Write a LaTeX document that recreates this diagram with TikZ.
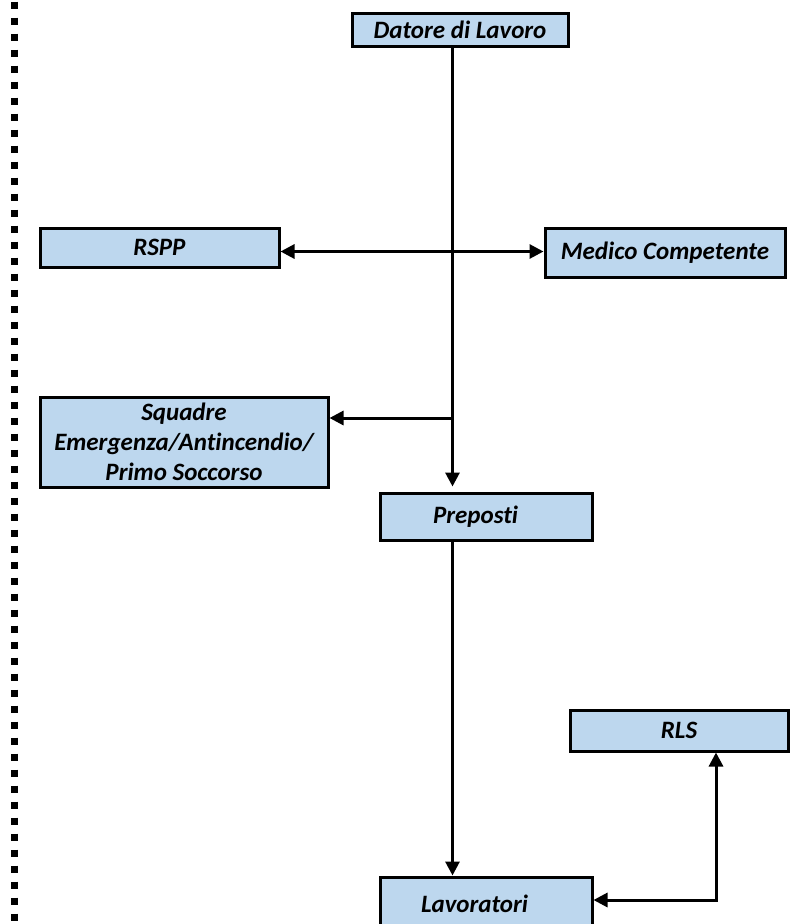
\documentclass[tikz,border=0pt]{standalone}
\usepackage{fontspec}
\setmainfont{Carlito}[Ligatures=NoCommon]
\usetikzlibrary{arrows.meta}
\definecolor{boxblue}{RGB}{189,215,238}
\tikzset{
  orgbox/.style={draw=black, line width=3pt, fill=boxblue, inner sep=0pt,
    font=\fontsize{25}{30}\selectfont\bfseries\itshape, align=center},
  conn/.style={line width=3pt, -{Triangle[length=14pt,width=14pt]}},
  conn2/.style={line width=3pt, {Triangle[length=14pt,width=14pt]}-{Triangle[length=14pt,width=14pt]}},
}
\begin{document}
\begin{tikzpicture}[x=1pt,y=-1pt]
\useasboundingbox (0,0) rectangle (805,924);
% left dotted border
\draw[line width=7pt, dash pattern=on 7pt off 9pt] (14,1.5) -- (14,924);
% boxes
\node[orgbox, minimum width=216pt, minimum height=33pt] (datore) at (460,29.5) {Datore di Lavoro};
\node[orgbox, minimum width=239pt, minimum height=39pt] (rspp) at (159.5,247.5) {RSPP};
\node[orgbox, minimum width=240pt, minimum height=49pt] (medico) at (665,252.5) {Medico Competente};
\node[orgbox, minimum width=288pt, minimum height=90pt] (squadre) at (184,442) {Squadre\\Emergenza/Antincendio/\\Primo Soccorso};
\node[orgbox, minimum width=212pt, minimum height=47pt, text width=192pt, align=left] (preposti) at (486,516.5) {\hspace*{43pt}Preposti};
\node[orgbox, minimum width=218pt, minimum height=41pt] (rls) at (679,730.5) {RLS};
\node[orgbox, minimum width=212pt, minimum height=54pt, text width=192pt, align=left] (lavoratori) at (486,904) {\hspace*{31pt}Lavoratori};
% junctions
\coordinate (jA) at (452.5,251.5);
\coordinate (jB) at (452.5,418);
\coordinate (jC) at (716,900);
% connectors
\draw[conn] (datore.south -| jA) -- ([yshift=5pt]preposti.north -| jA);
\draw[conn] (jA) -- (rspp.east |- jA);
\draw[conn] (jA) -- (medico.west |- jA);
\draw[conn] (jB) -- (squadre.east |- jB);
\draw[conn] (preposti.south -| jA) -- (lavoratori.north -| jA);
\draw[conn2] (lavoratori.east |- jC) -- (jC) -- (rls.south -| jC);
\end{tikzpicture}
\end{document}
